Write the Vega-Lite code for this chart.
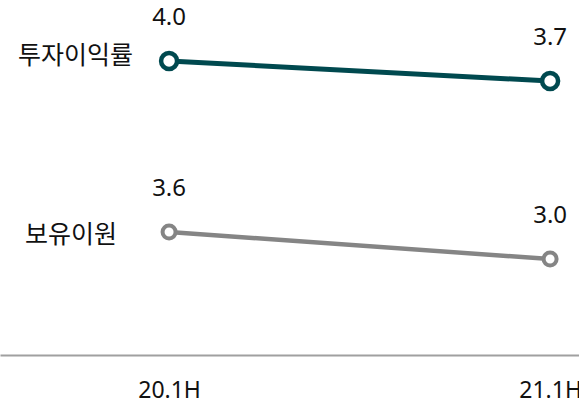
{
  "$schema": "https://vega.github.io/schema/vega-lite/v6.json",
  "width": 579,
  "height": 355,
  "autosize": {"type": "none"},
  "padding": {"left": 0, "right": 0, "top": 0, "bottom": 53},
  "data": {
    "values": [
      {"series": "투자이익률", "period": "20.1H", "value": 4.0},
      {"series": "투자이익률", "period": "21.1H", "value": 3.7},
      {"series": "보유이원", "period": "20.1H", "value": 3.6},
      {"series": "보유이원", "period": "21.1H", "value": 3.0}
    ]
  },
  "encoding": {
    "x": {
      "field": "period",
      "type": "ordinal",
      "sort": ["20.1H", "21.1H"],
      "scale": {"type": "point", "padding": 0.2598, "align": 0.854},
      "axis": {
        "title": null,
        "labelAngle": 0,
        "ticks": false,
        "grid": false,
        "domainColor": "#a0a0a0",
        "domainWidth": 2,
        "labelFontSize": 23,
        "labelColor": "#111111",
        "labelFont": "Noto Sans",
        "labelPadding": 24
      }
    }
  },
  "layer": [
    {
      "transform": [{"filter": "datum.series === '투자이익률'"}],
      "encoding": {
        "y": {"field": "value", "type": "quantitative", "scale": {"domain": [-0.41, 4.915], "zero": false, "nice": false}, "axis": null}
      },
      "layer": [
        {"mark": {"type": "line", "color": "#00494f", "strokeWidth": 5}},
        {"mark": {"type": "point", "filled": true, "fill": "white", "stroke": "#00494f", "strokeWidth": 4.5, "size": 256, "opacity": 1}},
        {"mark": {"type": "text", "dy": -43, "fontSize": 24, "font": "Noto Sans", "color": "#111111", "baseline": "middle"},
         "encoding": {"text": {"field": "value", "type": "quantitative", "format": ".1f"}}},
        {"transform": [{"filter": "datum.period === '20.1H'"}],
         "mark": {"type": "text", "align": "right", "dx": -36, "dy": -5, "fontSize": 25, "font": "Noto Sans CJK KR", "color": "#111111", "baseline": "middle"},
         "encoding": {"text": {"field": "series"}}}
      ]
    },
    {
      "transform": [{"filter": "datum.series === '보유이원'"}],
      "encoding": {
        "y": {"field": "value", "type": "quantitative", "scale": {"domain": [0.867, 8.756], "zero": false, "nice": false}, "axis": null}
      },
      "layer": [
        {"mark": {"type": "line", "color": "#858585", "strokeWidth": 4.5}},
        {"mark": {"type": "point", "filled": true, "fill": "white", "stroke": "#858585", "strokeWidth": 4, "size": 169, "opacity": 1}},
        {"mark": {"type": "text", "dy": -43, "fontSize": 24, "font": "Noto Sans", "color": "#111111", "baseline": "middle"},
         "encoding": {"text": {"field": "value", "type": "quantitative", "format": ".1f"}}},
        {"transform": [{"filter": "datum.period === '20.1H'"}],
         "mark": {"type": "text", "align": "right", "dx": -52, "dy": 3, "fontSize": 25, "font": "Noto Sans CJK KR", "color": "#111111", "baseline": "middle"},
         "encoding": {"text": {"field": "series"}}}
      ]
    }
  ],
  "resolve": {"scale": {"y": "independent"}},
  "config": {"view": {"stroke": null}}
}
